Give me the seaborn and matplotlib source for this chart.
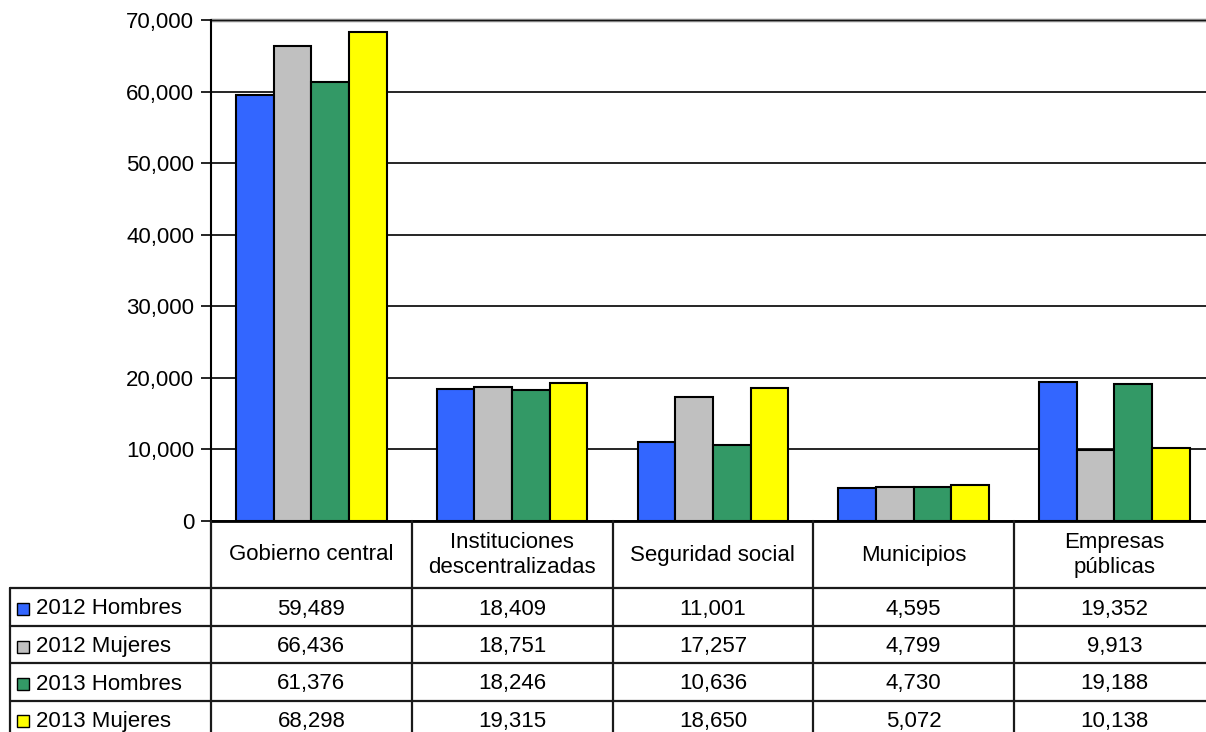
import matplotlib
matplotlib.use("Agg")
import matplotlib.pyplot as plt
import matplotlib.transforms as mtransforms
from matplotlib.patches import Rectangle
from matplotlib.ticker import FuncFormatter
import seaborn as sns
import pandas as pd

# ---- data ----
categories = ["Gobierno central", "Instituciones\ndescentralizadas", "Seguridad social",
              "Municipios", "Empresas\npúblicas"]
series = ["2012 Hombres", "2012 Mujeres", "2013 Hombres", "2013 Mujeres"]
h2012 = [59489, 18409, 11001, 4595, 19352]
m2012 = [66436, 18751, 17257, 4799, 9913]
h2013 = [61376, 18246, 10636, 4730, 19188]
m2013 = [68298, 19315, 18650, 5072, 10138]
colors = ["#3366FF", "#C0C0C0", "#339966", "#FFFF00"]
yticks = [0, 10000, 20000, 30000, 40000, 50000, 60000, 70000]

values = [h2012, m2012, h2013, m2013]
rows = []
for s, vals in zip(series, values):
    for c, v in zip(categories, vals):
        rows.append({"Categoria": c, "Serie": s, "Valor": v})
df = pd.DataFrame(rows)

sns.set_style("white")
plt.rcParams["font.family"] = ["Liberation Sans", "DejaVu Sans"]

FS = 16
W, H = 1206, 732
fig = plt.figure(figsize=(W / 100, H / 100), dpi=100)
ax = fig.add_axes([211 / W, (H - 521) / H, (1214.75 - 211) / W, 501 / H])

sns.barplot(data=df, x="Categoria", y="Valor", hue="Serie", order=categories,
            hue_order=series, palette=colors, saturation=1, edgecolor="black",
            linewidth=1.5, width=0.75, ax=ax, legend=False)

ax.set_xlim(-0.5, len(categories) - 0.5)
ax.set_ylim(0, 70000)
ax.set_yticks(yticks)
ax.yaxis.set_major_formatter(FuncFormatter(lambda v, p: f"{int(v):,}"))
ax.set_xticks([])
ax.set_xlabel("")
ax.set_ylabel("")
ax.set_axisbelow(True)
ax.yaxis.grid(True, color="black", linewidth=1.2)
ax.xaxis.grid(False)
ax.axhline(70000, color="#808080", linewidth=2.5, zorder=0.5, clip_on=False)
for sp in ["top", "right"]:
    ax.spines[sp].set_visible(False)
ax.spines["left"].set_color("black")
ax.spines["left"].set_linewidth(1.5)
ax.spines["bottom"].set_color("black")
ax.spines["bottom"].set_linewidth(2)
ax.tick_params(axis="y", which="major", left=True, length=7, width=1.2,
               direction="out", color="black", labelsize=FS, pad=5,
               labelcolor="black")

# ---- data table ----
tab = fig.add_axes([0, 0, 1, 1])
tab.set_xlim(0, W)
tab.set_ylim(H, 0)
tab.axis("off")
tab.patch.set_alpha(0)
bt = mtransforms.blended_transform_factory(ax.transData, tab.transData)

lc = "#1a1a1a"
lw = 1.6
row_lines = [588, 626, 663, 701]
for y in row_lines:
    tab.plot([10, W + 20], [y, y], color=lc, lw=lw, clip_on=False)
for i in range(len(categories) + 1):
    tab.plot([i - 0.5, i - 0.5], [521, H + 10], color=lc, lw=lw,
             transform=bt, clip_on=False)
tab.plot([10, 10], [588, H + 10], color=lc, lw=lw, clip_on=False)

for i, c in enumerate(categories):
    tab.text(i, 555, c, transform=bt, ha="center", va="center",
             fontsize=FS, linespacing=1.2, color="black")

row_centers = [609, 646.5, 684, 721]
for r, (s, vals, col) in enumerate(zip(series, values, colors)):
    yc = row_centers[r]
    tab.add_patch(Rectangle((17, yc - 6), 12, 12, facecolor=col,
                            edgecolor="black", lw=1))
    tab.text(36, yc, s, ha="left", va="center", fontsize=FS, color="black")
    for i, v in enumerate(vals):
        tab.text(i, yc, f"{v:,}", transform=bt, ha="center", va="center",
                 fontsize=FS, color="black")

fig.savefig("out.png", dpi=100)
